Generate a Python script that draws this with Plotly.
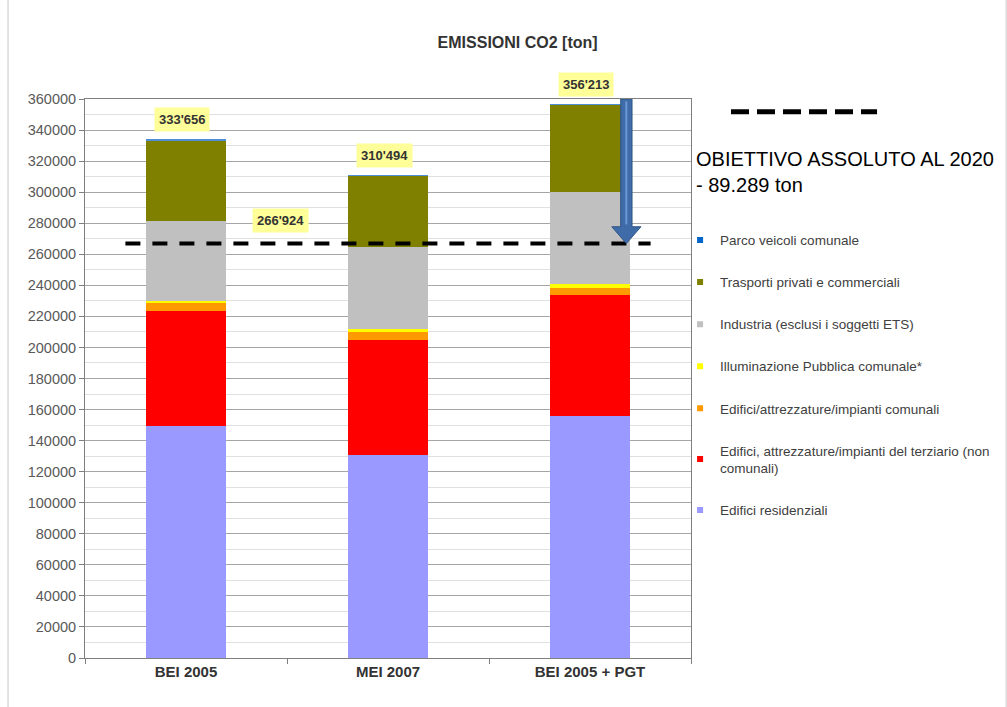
import plotly.graph_objects as go

# Scenari a confronto
categories = ["BEI 2005", "MEI 2007", "BEI 2005 + PGT"]

# Emissioni di CO2 per settore [ton]
edifici_residenziali = [149400, 131000, 155900]
terziario = [73900, 74000, 77800]
edifici_comunali = [5200, 4800, 4300]
illuminazione_pubblica = [1700, 2200, 2600]
industria = [51500, 52750, 59700]
trasporti_privati = [51886, 45684, 55843]
parco_veicoli = [70, 60, 70]

# Obiettivo assoluto al 2020 [ton]
obiettivo_2020 = 266924

series = [
    ("Edifici residenziali", edifici_residenziali, "#9999FF"),
    ("Edifici, attrezzature/impianti del terziario (non<br>comunali)", terziario, "#FF0000"),
    ("Edifici/attrezzature/impianti comunali", edifici_comunali, "#FF9900"),
    ("Illuminazione Pubblica comunale*", illuminazione_pubblica, "#FFFF00"),
    ("Industria (esclusi i soggetti ETS)", industria, "#C0C0C0"),
    ("Trasporti privati e commerciali", trasporti_privati, "#808000"),
    ("Parco veicoli comunale", parco_veicoli, "#4F8FD8"),
]

totals = [sum(vals) for vals in zip(*[s[1] for s in series])]
riduzione = totals[2] - obiettivo_2020


def fmt_apos(v):
    return f"{v:,}".replace(",", "'")


fig = go.Figure()

n = len(series)
for i, (name, vals, color) in enumerate(series):
    fig.add_trace(go.Bar(
        x=categories, y=vals, name=name,
        marker=dict(color=color, line=dict(width=0)),
        showlegend=False, hoverinfo="x+y+name",
    ))
    # small square key for the legend (top sector listed first)
    fig.add_trace(go.Scatter(
        x=[None], y=[None], mode="markers", name=name,
        legendgroup=f"g{i}", legendrank=n - i,
        marker=dict(symbol="square", size=6,
                    color="#0066CC" if i == n - 1 else color),
    ))

# target line
fig.add_shape(type="line", xref="x", yref="y",
              x0=-0.30, x1=2.30, y0=obiettivo_2020, y1=obiettivo_2020,
              line=dict(color="black", width=4, dash="15px,12px"))

# reduction arrow from the top of the axis down to the target
y_top = 360000
ax_c = 2.18
shaft = 0.028
head_w = 0.072
head_h = 10800
arrow_path = (
    f"M {ax_c - shaft} {y_top} L {ax_c + shaft} {y_top} "
    f"L {ax_c + shaft} {obiettivo_2020 + head_h} L {ax_c + head_w} {obiettivo_2020 + head_h} "
    f"L {ax_c} {obiettivo_2020} L {ax_c - head_w} {obiettivo_2020 + head_h} "
    f"L {ax_c - shaft} {obiettivo_2020 + head_h} Z"
)
fig.add_shape(type="path", xref="x", yref="y", path=arrow_path,
              fillcolor="#3F6CA8", line=dict(color="#2E5487", width=1))
fig.add_shape(type="line", xref="x", yref="y",
              x0=ax_c, x1=ax_c, y0=y_top - 1500, y1=obiettivo_2020 + head_h + 1500,
              line=dict(color="#6A98D6", width=2))

# total labels
label_font = dict(family="Liberation Sans", size=13, color="#333333")
for cat, tot in zip(categories, totals):
    fig.add_annotation(x=cat, y=tot, text=f"<b>{fmt_apos(tot)}</b>",
                       showarrow=False, yshift=20, xshift=-4,
                       bgcolor="#FFFF99", borderpad=4, font=label_font)

fig.add_annotation(x=0.47, y=obiettivo_2020, xref="x", yref="y",
                   text=f"<b>{fmt_apos(obiettivo_2020)}</b>",
                   showarrow=False, yshift=23,
                   bgcolor="#FFFF99", borderpad=4, font=label_font)

# objective caption and its line key
fig.add_annotation(xref="paper", yref="paper", x=1.005, y=0.869,
                   xanchor="left", yanchor="middle", align="left",
                   text=f"OBIETTIVO ASSOLUTO AL 2020<br>- {riduzione:,} ton".replace(",", "."),
                   showarrow=False,
                   font=dict(family="Liberation Sans", size=20, color="black"))
fig.add_shape(type="line", xref="paper", yref="paper",
              x0=1.066, x1=1.307, y0=0.977, y1=0.977,
              line=dict(color="black", width=5, dash="18px,8px"))

# outer chart frame
fig.add_shape(type="rect", xref="paper", yref="paper",
              x0=-0.127, x1=1.52, y0=-0.12, y1=1.55,
              line=dict(color="#C8C8C8", width=1))

fig.update_layout(
    width=1007, height=707,
    margin=dict(l=85, r=316, t=99, b=49),
    paper_bgcolor="white", plot_bgcolor="white",
    barmode="stack", bargap=0.6,
    title=dict(text="<b>EMISSIONI CO2 [ton]</b>", x=0.514, xanchor="center",
               y=0.94, yanchor="middle",
               font=dict(family="Liberation Sans", size=16, color="#333333")),
    legend=dict(x=0.982, y=0.775, xanchor="left", yanchor="top",
                traceorder="grouped", tracegroupgap=21.5,
                bgcolor="rgba(0,0,0,0)",
                font=dict(family="Liberation Sans", size=13.5, color="#404040")),
    xaxis=dict(showline=True, mirror=True, linecolor="#7F7F7F", linewidth=1,
               ticks="outside", tickson="boundaries", ticklen=5, tickcolor="#7F7F7F",
               tickfont=dict(family="Liberation Sans", size=15, color="#333333"),
               tickprefix="<b>", ticksuffix="</b>", showgrid=False),
    yaxis=dict(range=[0, 360000], tick0=0, dtick=20000, tickformat="d",
               showline=True, mirror=True, linecolor="#7F7F7F", linewidth=1,
               ticks="outside", ticklen=5, tickcolor="#7F7F7F",
               showgrid=True, gridcolor="#A6A6A6", gridwidth=1,
               minor=dict(dtick=10000, showgrid=True, gridcolor="#E0E0E0", ticks=""),
               zeroline=False,
               tickfont=dict(family="Liberation Sans", size=14.5, color="#595959")),
    showlegend=True,
)

fig.write_html("out.html")
